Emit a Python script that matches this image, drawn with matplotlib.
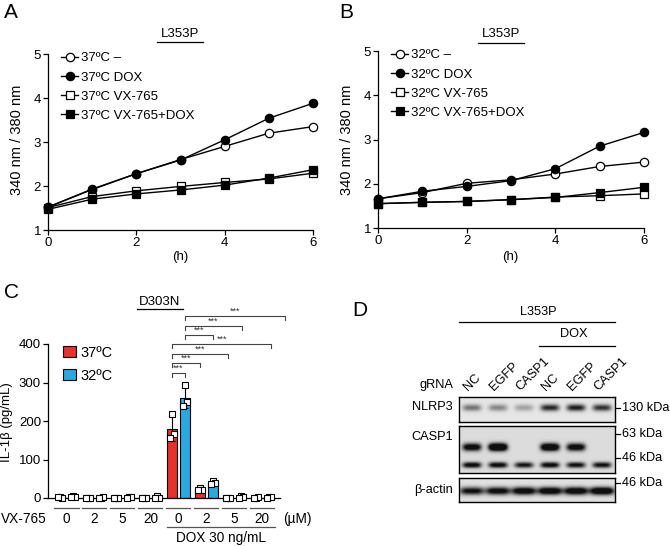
import matplotlib
matplotlib.use("Agg")
import matplotlib.pyplot as plt
import numpy as np
from matplotlib.lines import Line2D
from matplotlib.patches import Patch

plt.rcParams['font.family'] = ['Liberation Sans', 'DejaVu Sans']
plt.rcParams['axes.linewidth'] = 0.9

W, H = 670, 546

# ---- data: panels A / B (340/380 ratio over time)
hours = [0, 1, 2, 3, 4, 5, 6]
a_ctrl = [1.52, 1.92, 2.28, 2.60, 2.90, 3.20, 3.35]
a_dox = [1.52, 1.93, 2.28, 2.59, 3.05, 3.54, 3.88]
a_vx = [1.51, 1.76, 1.89, 1.99, 2.08, 2.16, 2.29]
a_vxdox = [1.47, 1.70, 1.82, 1.91, 2.02, 2.18, 2.37]
a_labels = ["37ºC –", "37ºC DOX", "37ºC VX-765", "37ºC VX-765+DOX"]

b_ctrl = [1.66, 1.80, 2.01, 2.09, 2.22, 2.39, 2.49]
b_dox = [1.66, 1.83, 1.94, 2.07, 2.34, 2.85, 3.16]
b_vx = [1.55, 1.58, 1.60, 1.64, 1.70, 1.73, 1.77]
b_vxdox = [1.55, 1.58, 1.60, 1.64, 1.69, 1.80, 1.92]
b_labels = ["32ºC –", "32ºC DOX", "32ºC VX-765", "32ºC VX-765+DOX"]

# ---- data: panel C (IL-1b)
vx_conc = ["0", "2", "5", "20", "0", "2", "5", "20"]
red_pts = [[3, 1, 2], [0, 0, 1], [0, 0, 0], [0, 1, 0],
           [218, 165, 157], [25, 22, 22], [0, 0, 0], [1, 2, 0]]
blue_pts = [[4, 3, 2], [1, 2, 0], [3, 2, 1], [4, 1, 1],
            [293, 250, 240], [45, 38, 37], [4, 2, 1], [3, 2, 1]]
sig_x0 = [3.77, 3.77, 3.77, 3.77, 4.23, 4.23, 4.23]
sig_x1 = [4.23, 4.77, 5.77, 7.32, 5.23, 6.27, 7.80]
sig_y = [325, 351, 374, 400, 423, 447, 473]

# ---- data: panel D (western blot band intensities)
lanes = ["NC", "EGFP", "CASP1", "NC", "EGFP", "CASP1"]
nlrp3 = [0.5, 0.42, 0.3, 0.85, 0.9, 0.8]
casp1_hi = [1.2, 1.7, 0.0, 1.5, 1.2, 0.0]
casp1_lo = [1.1, 1.1, 0.95, 1.1, 1.0, 1.0]
actin = [1.0, 1.1, 1.2, 1.25, 1.25, 1.35]
kda_labels = ["130 kDa", "63 kDa", "46 kDa", "46 kDa"]

red = "#e5322b"
blue = "#2aa9e0"

FS = 9.5

fig = plt.figure(figsize=(6.7, 5.46), dpi=100)


def fx(x):
    return x / W


def fy(y):
    return 1 - y / H


def ftext(x, y, s, **kw):
    fig.text(fx(x), fy(y), s, **kw)


def fline(x0, x1, y0, y1=None, lw=0.9):
    if y1 is None:
        y1 = y0
    fig.add_artist(Line2D([fx(x0), fx(x1)], [fy(y0), fy(y1)],
                          transform=fig.transFigure, color="black", lw=lw))


def style_axes(ax):
    ax.spines[['top', 'right']].set_visible(False)
    ax.tick_params(direction='out', length=3.5, width=0.9, labelsize=FS, pad=1.5)


def line_panel(ax, series, labels):
    styles = [('o', 'white'), ('o', 'black'), ('s', 'white'), ('s', 'black')]
    for vals, lab, (m, fc) in zip(series, labels, styles):
        ax.plot(hours, vals, color='black', lw=1, marker=m, markersize=6,
                markerfacecolor=fc, markeredgecolor='black', markeredgewidth=0.9,
                label=lab, clip_on=False, zorder=3)
    ax.set_xlim(0, 6)
    ax.set_ylim(1, 5)
    ax.set_xticks([0, 2, 4, 6])
    ax.set_yticks([1, 2, 3, 4, 5])
    style_axes(ax)
    ax.legend(loc='upper left', bbox_to_anchor=(0.05, 1.01), frameon=False,
              borderpad=0, borderaxespad=0, handlelength=1.3, handletextpad=0.2,
              labelspacing=0.52, fontsize=FS)


# ---- Panel A
axA = fig.add_axes([fx(48), fy(230), fx(265), 176 / H])
line_panel(axA, [a_ctrl, a_dox, a_vx, a_vxdox], a_labels)
ftext(4, 12, "A", fontsize=15, va='center')
ftext(180, 34, "L353P", fontsize=FS, ha='center', va='center')
fline(157, 203, 42)
ftext(17, 140, "340 nm / 380 nm", fontsize=10.5, rotation=90, ha='center', va='center')
ftext(180, 257, "(h)", fontsize=FS, ha='center', va='center')

# ---- Panel B
axB = fig.add_axes([fx(378), fy(228), fx(266), 177 / H])
line_panel(axB, [b_ctrl, b_dox, b_vx, b_vxdox], b_labels)
ftext(339, 12, "B", fontsize=15, va='center')
ftext(501, 34, "L353P", fontsize=FS, ha='center', va='center')
fline(478, 524, 43)
ftext(347, 140, "340 nm / 380 nm", fontsize=10.5, rotation=90, ha='center', va='center')
ftext(510, 257, "(h)", fontsize=FS, ha='center', va='center')

# ---- Panel C
axC = fig.add_axes([fx(48), fy(498), fx(232), 154 / H])
x = np.arange(len(vx_conc))
off, bw = 0.23, 0.34
jit = [0.0, 0.07, -0.07]
for pts, sgn, col in [(red_pts, -1, red), (blue_pts, 1, blue)]:
    arr = np.array(pts, dtype=float)
    m = arr.mean(axis=1)
    sd = arr.std(axis=1, ddof=1)
    pos = x + sgn * off
    axC.bar(pos, m, width=bw, color=col, edgecolor='black', lw=0.8, zorder=2)
    axC.errorbar(pos, m, yerr=sd, fmt='none', ecolor='black', elinewidth=0.8,
                 capsize=2.5, capthick=0.8, zorder=3, clip_on=False)
    for j in range(arr.shape[1]):
        axC.plot(pos + jit[j], arr[:, j], ls='none', marker='s', markersize=3.8,
                 markerfacecolor='white', markeredgecolor='black',
                 markeredgewidth=0.8, zorder=4, clip_on=False)
axC.set_xlim(-0.66, 7.63)
axC.set_ylim(0, 400)
axC.set_yticks([0, 100, 200, 300, 400])
axC.set_xticks([])
style_axes(axC)

for x0, x1, y in zip(sig_x0, sig_x1, sig_y):
    axC.plot([x0, x0, x1, x1], [y - 10, y, y, y - 10], color='#444444', lw=0.8,
             clip_on=False)
    axC.text((x0 + x1) / 2, y, "***", fontsize=6.5, ha='center', va='bottom',
             color='#333333')

trC = axC.get_xaxis_transform()
for i, lab in enumerate(vx_conc):
    axC.plot([i - 0.43, i + 0.43], [-0.065, -0.065], color='#555555', lw=0.9,
             transform=trC, clip_on=False)
    axC.text(i, -0.137, lab, fontsize=9.8, ha='center', va='center', transform=trC)
axC.plot([3.59, 7.45], [-0.19, -0.19], color='#555555', lw=0.9,
         transform=trC, clip_on=False)
axC.text(5.52, -0.262, "DOX 30 ng/mL", fontsize=9.8, ha='center', va='center',
         transform=trC)
axC.text(-0.72, -0.137, "VX-765", fontsize=9.8, ha='right', va='center', transform=trC)
axC.text(7.75, -0.137, "(µM)", fontsize=9.8, ha='left', va='center', transform=trC)

axC.legend(handles=[Patch(facecolor=red, edgecolor='black', lw=0.8, label="37ºC"),
                    Patch(facecolor=blue, edgecolor='black', lw=0.8, label="32ºC")],
           loc='upper left', bbox_to_anchor=(0.065, 0.99), frameon=False,
           borderpad=0, borderaxespad=0, handlelength=0.9, handleheight=0.8,
           handletextpad=0.3, labelspacing=0.62, fontsize=10.5)

ftext(4, 292, "C", fontsize=15, va='center')
ftext(160, 302, "D303N", fontsize=FS, ha='center', va='center')
fline(137, 183, 309)
ftext(7, 422, "IL-1β (pg/mL)", fontsize=FS, rotation=90, ha='center', va='center')

# ---- Panel D (blot)


def blot(ax, rows, bg, wx=0.36):
    nx, ny = 312, 80
    gx = (np.arange(nx) + 0.5) / nx * 6
    gy = (np.arange(ny) + 0.5) / ny
    X, Y = np.meshgrid(gx, gy)
    img = np.full(X.shape, bg)
    for levels, yc, hy in rows:
        for i, lv in enumerate(levels):
            img -= lv * bg * np.exp(-((X - (i + 0.5)) / wx) ** 4 - ((Y - yc) / hy) ** 2)
    img = np.clip(img, 0.06, 1)
    ax.imshow(img, cmap='gray', vmin=0, vmax=1, extent=(0, 6, 1, 0),
              aspect='auto', interpolation='bilinear')
    ax.set_xticks([])
    ax.set_yticks([])
    for s in ax.spines.values():
        s.set_linewidth(1.0)


bx0, bx1 = 459, 615
axN = fig.add_axes([fx(bx0), fy(422), fx(bx1 - bx0), 25 / H])
blot(axN, [(nlrp3, 0.45, 0.13)], 0.9)
axK = fig.add_axes([fx(bx0), fy(473), fx(bx1 - bx0), 47 / H])
blot(axK, [(casp1_hi, 0.45, 0.08), (casp1_lo, 0.83, 0.06)], 0.86)
axT = fig.add_axes([fx(bx0), fy(502), fx(bx1 - bx0), 24 / H])
blot(axT, [(actin, 0.54, 0.16)], 0.88, wx=0.47)

DS = 9.2
ftext(352, 311, "D", fontsize=15, va='center')
ftext(538, 312, "L353P", fontsize=DS, ha='center', va='center')
fline(bx0, bx1, 322)
ftext(574, 334, "DOX", fontsize=DS, ha='center', va='center')
fline(539, bx1, 346)
for i, lab in enumerate(lanes):
    ftext(bx0 + 26 * (i + 0.5) - 4, 391, lab, fontsize=DS, rotation=45,
          rotation_mode='anchor', ha='left', va='baseline')
ftext(453, 385, "gRNA", fontsize=DS, ha='right', va='center')
ftext(453, 407, "NLRP3", fontsize=DS, ha='right', va='center')
ftext(453, 437, "CASP1", fontsize=DS, ha='right', va='center')
ftext(453, 490, "β-actin", fontsize=DS, ha='right', va='center')
for lab, yk in zip(kda_labels, [408, 434, 458, 483]):
    fline(bx1 + 1, bx1 + 5, yk)
    ftext(bx1 + 7, yk, lab, fontsize=DS, ha='left', va='center')

fig.savefig("out.png", dpi=100)
